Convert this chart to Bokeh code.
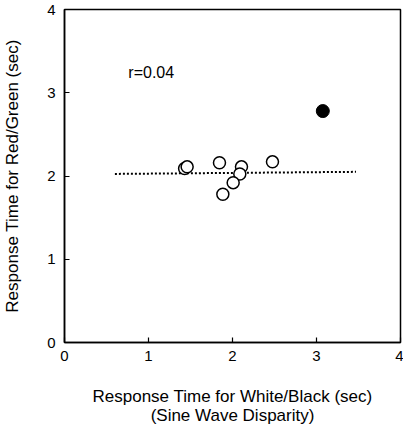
from bokeh.plotting import figure
from bokeh.models import Range1d, Label, FixedTicker
from bokeh.embed import file_html
from bokeh.resources import INLINE

# data
open_x = [1.43, 1.46, 1.845, 2.107, 2.087, 2.008, 1.885, 2.476]
open_y = [2.09, 2.11, 2.16, 2.11, 2.025, 1.92, 1.78, 2.17]
filled_x = [3.075]
filled_y = [2.78]
fit_x = [0.6, 3.47]
fit_y = [2.025, 2.05]
ticks = [0, 1, 2, 3, 4]
r_text = "r=0.04"
x_title = ["Response Time for White/Black (sec)", "(Sine Wave Disparity)"]
y_title = "Response Time for Red/Green (sec)"

FONT = "Liberation Sans"

p = figure(width=403, height=428, output_backend="svg", toolbar_location=None,
           x_range=Range1d(0, 4), y_range=Range1d(0, 4),
           min_border_left=64, min_border_right=3, min_border_top=9, min_border_bottom=86)
p.grid.visible = False
p.outline_line_color = "black"
p.outline_line_width = 1.5
p.background_fill_color = "white"
p.border_fill_color = "white"

for ax in (p.xaxis[0], p.yaxis[0]):
    ax.ticker = FixedTicker(ticks=ticks)
    ax.major_tick_in = 5
    ax.major_tick_out = 0
    ax.minor_tick_in = 0
    ax.minor_tick_out = 0
    ax.axis_line_width = 1.5
    ax.major_tick_line_width = 1.2
    ax.major_label_text_font = FONT
    ax.major_label_text_font_size = "15px"
    ax.major_label_text_color = "black"
    ax.axis_label_text_font = FONT
    ax.axis_label_text_font_size = "17px"
    ax.axis_label_text_font_style = "normal"
    ax.axis_label_text_color = "black"

p.xaxis.axis_label = "\n".join(x_title)
p.xaxis.axis_label_text_line_height = 1.0
p.xaxis.major_label_standoff = 8
p.xaxis.axis_label_standoff = 23
p.yaxis.axis_label = y_title
p.yaxis.major_label_standoff = 9
p.yaxis.axis_label_standoff = 22

p.line(fit_x, fit_y, line_color="black", line_width=2, line_dash="2 2")
p.scatter(open_x, open_y, size=12, marker="circle", fill_color="white",
          line_color="black", line_width=1.5)
p.scatter(filled_x, filled_y, size=13, marker="circle", fill_color="black",
          line_color="black")

p.add_layout(Label(x=0.76, y=3.24, text=r_text, text_font=FONT, text_font_size="16px",
                   text_baseline="middle", text_align="left", text_color="black"))

open("out.html", "w").write(file_html(p, INLINE))
